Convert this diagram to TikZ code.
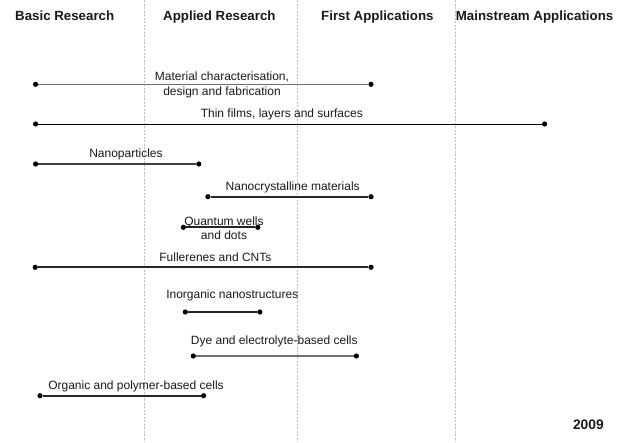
\documentclass[tikz,border=0pt]{standalone}
\usepackage{fontspec}
\setmainfont{Liberation Sans}
\definecolor{txt}{HTML}{1A1A1A}
\definecolor{grid}{HTML}{BDBDBD}
\definecolor{lgray}{HTML}{707070}
\begin{document}
\begin{tikzpicture}[x=1pt,y=-1pt,
  header/.style={font=\fontsize{13.3}{15}\selectfont\bfseries, text=txt, inner sep=0pt, text height=9.5pt, text depth=2.5pt},
  lbl/.style={font=\fontsize{12}{14.5}\selectfont, text=txt, inner sep=0pt, align=center, text height=8.6pt, text depth=2.3pt},
  lbltwo/.style={text=txt, inner sep=0pt, align=center},
  dotpt/.style={circle, fill=black, inner sep=0pt, minimum size=5.2pt},
  sep/.style={draw=grid, line width=0.8pt, dash pattern=on 2.2pt off 1.3pt},
  thinbar/.style={draw=lgray, line width=1.4pt},
  finebar/.style={draw=black, line width=1pt},
  boldbar/.style={draw=black!85, line width=1.8pt}]
\useasboundingbox (0,0) rectangle (621,442);
\fill[white] (0,0) rectangle (621,442);

% column separators
\coordinate (s1t) at (144,0); \coordinate (s1b) at (144,442);
\coordinate (s2t) at (297,0); \coordinate (s2b) at (297,442);
\coordinate (s3t) at (455,0); \coordinate (s3b) at (455,442);
\draw[sep] (s1t) -- (s1b);
\draw[sep] (s2t) -- (s2b);
\draw[sep] (s3t) -- (s3b);

% headers
\node[header] (h1) at (64.7,17) {Basic Research};
\node[header] (h2) at (219.4,17) {Applied Research};
\node[header] (h3) at (377.4,17) {First Applications};
\node[header] (h4) at (534.6,17) {Mainstream Applications};

% Material characterisation
\node[dotpt] (ma) at (35.6,84.3) {};
\node[dotpt] (mb) at (371,84.3) {};
\draw[thinbar] (ma) -- (mb);
\node[lbltwo, font=\fontsize{12}{15.4}\selectfont] (ml) at (222,85) {Material characterisation,\\design and fabrication};

% Thin films
\node[dotpt] (ta) at (35.6,124) {};
\node[dotpt] (tb) at (544.6,124) {};
\draw[finebar] (ta) -- (tb);
\node[lbl] (tl) at (281.8,114) {Thin films, layers and surfaces};

% Nanoparticles
\node[dotpt] (na) at (35.6,164) {};
\node[dotpt] (nb) at (198.8,164) {};
\draw[thinbar, draw=black!75] (na) -- (nb);
\node[lbl] (nl) at (126,154) {Nanoparticles};

% Nanocrystalline materials
\node[dotpt] (ca) at (207.9,196.7) {};
\node[dotpt] (cb) at (371,196.7) {};
\draw[boldbar] (ca) -- (cb);
\node[lbl] (cl) at (292.7,187) {Nanocrystalline materials};

% Quantum wells and dots
\node[dotpt] (qa) at (183.4,227.3) {};
\node[dotpt] (qb) at (257.8,227.3) {};
\draw[boldbar] (qa) -- (qb);
\node[lbltwo, font=\fontsize{12}{13.6}\selectfont] (ql) at (224,228.5) {Quantum wells\\and dots};

% Fullerenes and CNTs
\node[dotpt] (fa) at (35.2,267.3) {};
\node[dotpt] (fb) at (371,267.3) {};
\draw[boldbar] (fa) -- (fb);
\node[lbl] (fl) at (215.4,258) {Fullerenes and CNTs};

% Inorganic nanostructures
\node[dotpt] (ia) at (185.3,312) {};
\node[dotpt] (ib) at (259.8,312) {};
\draw[boldbar] (ia) -- (ib);
\node[lbl] (il) at (232.3,295.5) {Inorganic nanostructures};

% Dye and electrolyte-based cells
\node[dotpt] (da) at (193.3,356) {};
\node[dotpt] (db) at (356.4,356) {};
\draw[thinbar] (da) -- (db);
\node[lbl] (dl) at (274.3,341.5) {Dye and electrolyte-based cells};

% Organic and polymer-based cells
\node[dotpt] (oa) at (40,395.7) {};
\node[dotpt] (ob) at (203.6,395.7) {};
\draw[boldbar] (oa) -- (ob);
\node[lbl] (ol) at (136,386) {Organic and polymer-based cells};

% year
\node[header, font=\fontsize{13.8}{16}\selectfont\bfseries] (yr) at (588.4,425.5) {2009};
\end{tikzpicture}
\end{document}
